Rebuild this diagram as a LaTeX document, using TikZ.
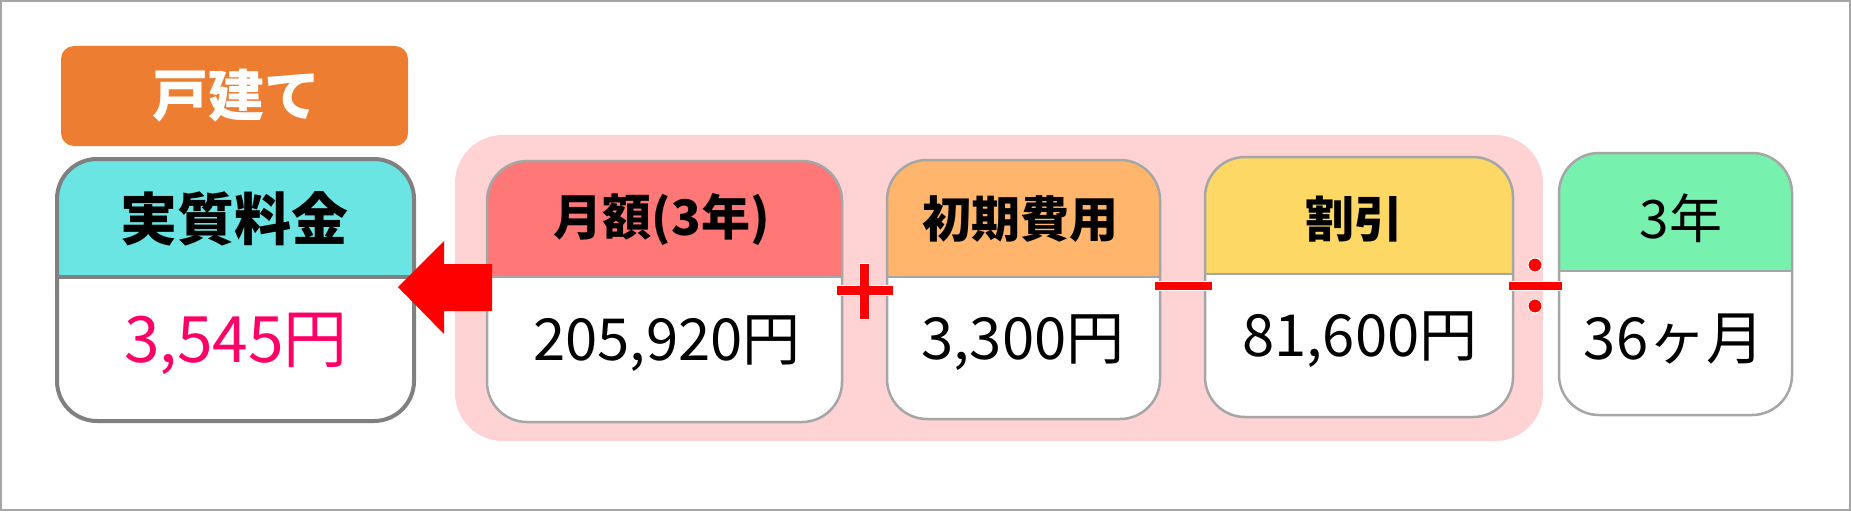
\documentclass[tikz,border=0pt]{standalone}
\usepackage{fontspec}
\setmainfont{Noto Sans CJK JP}
\definecolor{framegray}{HTML}{A6A6A6}
\definecolor{cardgray}{HTML}{A6A6A6}
\definecolor{resgray}{HTML}{808080}
\definecolor{taborange}{HTML}{ED7D31}
\definecolor{rescyan}{HTML}{6AE5E3}
\definecolor{bgpink}{HTML}{FFD3D3}
\definecolor{hdrred}{HTML}{FF7777}
\definecolor{hdrorange}{HTML}{FFB56B}
\definecolor{hdryellow}{HTML}{FDD865}
\definecolor{hdrgreen}{HTML}{77F2AE}
\definecolor{valpink}{HTML}{FF0066}
\definecolor{opred}{HTML}{FF0000}
\tikzset{
  cardline/.style={draw=cardgray, line width=2.5pt},
  resline/.style={draw=resgray, line width=4pt},
  hdr/.style={font=\bfseries\fontsize{49}{49}\selectfont, text=black, inner sep=0pt},
  val/.style={font=\fontsize{58}{58}\selectfont, text=black, inner sep=0pt},
  opsign/.style={fill=opred, draw=white, line width=1pt},
}
\newcommand\drawcard[7]{%
  \fill[white, rounded corners=40pt] (#1,#2) rectangle (#3,#5);
  \begin{scope}
    \clip[rounded corners=40pt] (#1,#2) rectangle (#3,#5);
    \fill[#6] (#1,#2) rectangle (#3,#4);
  \end{scope}
  \draw[#7] (#1,#4) -- (#3,#4);
  \draw[#7, rounded corners=40pt] (#1,#2) rectangle (#3,#5);
}
\begin{document}
\begin{tikzpicture}[x=1pt, y=-1pt]
\useasboundingbox (0,0) rectangle (1851,511);
\fill[white] (0,0) rectangle (1851,511);
\draw[framegray, line width=2pt] (1,1) rectangle (1850,510);

% tab
\fill[taborange, rounded corners=13pt] (61,46) rectangle (408,146);
\node[font=\bfseries\fontsize{56}{56}\selectfont, text=white, inner sep=0pt] (tab) at (236,96) {戸建て};

% result card
\drawcard{57}{159}{414}{277}{421}{rescyan}{resline}
\node[hdr, font=\bfseries\fontsize{57}{57}\selectfont] (reshdr) at (234,219) {実質料金};
\node[val, text=valpink, font=\fontsize{64}{64}\selectfont] (resval) at (236,344) {3,545円};

% pink background
\fill[bgpink, rounded corners=48pt] (455,135) rectangle (1543,441);

% card 1
\drawcard{487}{161}{842}{277}{422}{hdrred}{cardline}
\node[hdr] (h1) at (662,219) {月額(3年)};
\node[val] (v1) at (667,344) {205,920円};

% card 2
\drawcard{887}{160}{1160}{277}{419}{hdrorange}{cardline}
\node[hdr] (h2) at (1020,219) {初期費用};
\node[val] (v2) at (1023,343) {3,300円};

% card 3
\drawcard{1205}{157}{1513}{274}{417}{hdryellow}{cardline}
\node[hdr] (h3) at (1354,219) {割引};
\node[val] (v3) at (1360,340) {81,600円};

% card 4
\drawcard{1559}{153}{1792}{271}{415}{hdrgreen}{cardline}
\node[hdr, font=\fontsize{53}{53}\selectfont] (h4) at (1681,218) {3年};
\node[val] (v4) at (1674,339) {36ヶ月};

% arrow
\fill[opred] (398,287) -- (444,241) -- (444,264) -- (492,264) -- (492,311) -- (444,311) -- (444,334) -- cycle;

% plus
\draw[opsign] (836,285) -- (859,285) -- (859,263) -- (869,263) -- (869,285) -- (893,285) -- (893,295) -- (869,295) -- (869,319) -- (859,319) -- (859,295) -- (836,295) -- cycle;
% minus
\draw[opsign] (1154,281) rectangle (1212,290);
% divide
\draw[opsign] (1508,281) rectangle (1562,290);
\draw[opsign] (1535,265) circle[radius=7pt];
\draw[opsign] (1535,306) circle[radius=7pt];
\end{tikzpicture}
\end{document}
